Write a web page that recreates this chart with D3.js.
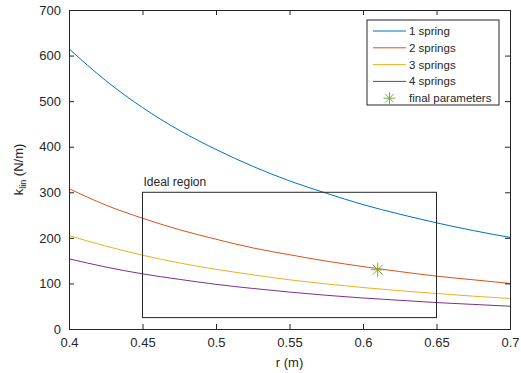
<!DOCTYPE html>
<html>
<head>
<meta charset="utf-8">
<script src="https://cdn.jsdelivr.net/npm/d3@7"></script>
<style>
  body { margin: 0; background: #fff; }
  text { font-family: "Liberation Sans", Arial, sans-serif; fill: #262626; }
</style>
</head>
<body>
<div id="chart"></div>
<script>
// radius values (m) where curves were read
var rValues = [0.4, 0.425, 0.45, 0.475, 0.5, 0.525, 0.55, 0.575, 0.6, 0.625, 0.65, 0.675, 0.7];
var spring1 = [615, 545, 486, 436, 394, 357, 325, 298, 273, 252, 233, 216, 201];
var spring2 = [308, 272, 243, 218, 197, 178, 163, 149, 137, 126, 116, 108, 100];
var spring3 = [205, 182, 162, 145, 131, 119, 108, 99, 91, 84, 78, 72, 67];
var spring4 = [154, 136, 121, 109, 98, 89, 81, 74, 68, 63, 58, 54, 50];
var seriesNames = ["1 spring", "2 springs", "3 springs", "4 springs"];
var finalParam = [0.61, 130];
var idealRegion = {r0: 0.45, r1: 0.65, k0: 25, k1: 300};
var xTicks = [0.4, 0.45, 0.5, 0.55, 0.6, 0.65, 0.7];
var yTicks = [0, 100, 200, 300, 400, 500, 600, 700];

var colors = ["#0072BD", "#D95319", "#EDB120", "#7E2F8E"];
var markerColor = "#77AC30";

var margin = {top: 10, right: 11, bottom: 44, left: 69},
    width = 521 - margin.left - margin.right,
    height = 373 - margin.top - margin.bottom;

var x = d3.scaleLinear().domain([0.4, 0.7]).range([0, width]);
var y = d3.scaleLinear().domain([0, 700]).range([height, 0]);

var svg = d3.select("#chart").append("svg")
    .attr("width", 521).attr("height", 373)
  .append("g")
    .attr("transform", "translate(" + margin.left + "," + margin.top + ")");

// series lines
var allSeries = [spring1, spring2, spring3, spring4];
var line = d3.line()
    .x(function(d) { return x(d[0]); })
    .y(function(d) { return y(d[1]); })
    .curve(d3.curveMonotoneX);

allSeries.forEach(function(s, i) {
    svg.append("path")
        .datum(rValues.map(function(r, j) { return [r, s[j]]; }))
        .attr("fill", "none")
        .attr("stroke", colors[i])
        .attr("stroke-width", 1)
        .attr("d", line);
});

// ideal region box
svg.append("rect")
    .attr("x", x(idealRegion.r0)).attr("y", y(idealRegion.k1))
    .attr("width", x(idealRegion.r1) - x(idealRegion.r0))
    .attr("height", y(idealRegion.k0) - y(idealRegion.k1))
    .attr("fill", "none").attr("stroke", "#262626").attr("stroke-width", 1);
svg.append("text")
    .attr("x", x(idealRegion.r0) + 1).attr("y", y(idealRegion.k1) - 6)
    .style("font-size", "12px").text("Ideal region");

// star marker
function star(g, cx, cy, s) {
    var p = g.append("g").attr("transform", "translate(" + cx + "," + cy + ")")
        .attr("stroke", markerColor).attr("stroke-width", 1);
    [0, 45, 90, 135].forEach(function(a) {
        var rad = a * Math.PI / 180;
        p.append("line")
            .attr("x1", -s * Math.cos(rad)).attr("y1", -s * Math.sin(rad))
            .attr("x2", s * Math.cos(rad)).attr("y2", s * Math.sin(rad));
    });
}
star(svg, x(finalParam[0]), y(finalParam[1]), 7);

// axes with ticks inward, box on all sides
var axisColor = "#262626";
var axBottom = svg.append("g").attr("transform", "translate(0," + height + ")")
    .call(d3.axisBottom(x).tickValues(xTicks).tickSize(-5).tickPadding(9).tickFormat(d3.format("")));
var axTop = svg.append("g")
    .call(d3.axisTop(x).tickValues(xTicks).tickSize(-5).tickFormat(""));
var axLeft = svg.append("g")
    .call(d3.axisLeft(y).tickValues(yTicks).tickSize(-5).tickPadding(8));
var axRight = svg.append("g").attr("transform", "translate(" + width + ",0)")
    .call(d3.axisRight(y).tickValues(yTicks).tickSize(-5).tickFormat(""));
[axBottom, axTop, axLeft, axRight].forEach(function(a) {
    a.selectAll("path").attr("stroke", axisColor);
    a.selectAll("line").attr("stroke", axisColor);
    a.selectAll("text").style("font-size", "13px").attr("fill", axisColor)
        .style("font-family", "'Liberation Sans', Arial, sans-serif");
});

// axis labels
svg.append("text")
    .attr("x", width / 2).attr("y", height + 38)
    .style("text-anchor", "middle").style("font-size", "13px").text("r (m)");
var yl = svg.append("text")
    .attr("transform", "translate(" + (-46) + "," + (height / 2) + ") rotate(-90)")
    .style("text-anchor", "middle").style("font-size", "13px");
yl.append("tspan").text("k");
yl.append("tspan").attr("dy", 3).style("font-size", "9px").text("lin");
yl.append("tspan").attr("dy", -3).text(" (N/m)");

// legend
var lg = svg.append("g").attr("transform", "translate(" + (367 - margin.left) + "," + (20 - margin.top) + ")");
lg.append("rect").attr("width", 132).attr("height", 85)
    .attr("fill", "#fff").attr("stroke", "#262626").attr("stroke-width", 1);
seriesNames.forEach(function(n, i) {
    var yy = 11 + i * 16.8;
    lg.append("line").attr("x1", 6).attr("x2", 39).attr("y1", yy).attr("y2", yy)
        .attr("stroke", colors[i]).attr("stroke-width", 1);
    lg.append("text").attr("x", 42).attr("y", yy + 4).style("font-size", "11.5px").text(n);
});
star(lg, 22.5, 11 + 4 * 16.8, 6);
lg.append("text").attr("x", 42).attr("y", 11 + 4 * 16.8 + 4).style("font-size", "11.5px").text("final parameters");
</script>
</body>
</html>
